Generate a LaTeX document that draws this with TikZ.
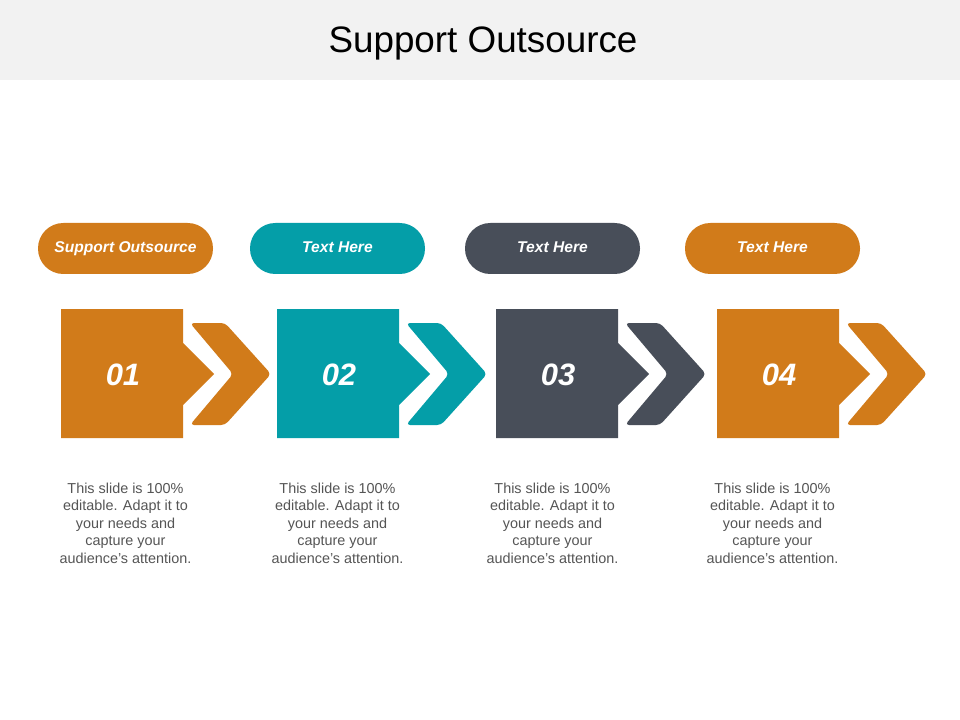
\documentclass[tikz,border=0pt]{standalone}
\usepackage{fontspec}
\setmainfont{Liberation Sans}
\definecolor{cOrange}{RGB}{209,123,26}
\definecolor{cTeal}{RGB}{4,158,168}
\definecolor{cDark}{RGB}{72,78,89}
\definecolor{cBand}{RGB}{242,242,242}
\definecolor{cBody}{RGB}{85,85,85}
\tikzset{
  title/.style={font=\fontsize{27.6pt}{32pt}\selectfont, text=black, inner sep=0pt, anchor=base},
  pill/.style={rounded corners=19pt, draw=none},
  pilltext/.style={font=\fontsize{11.7pt}{14pt}\selectfont\bfseries\itshape, text=white, inner sep=0pt, anchor=base},
  numtext/.style={font=\fontsize{23.2pt}{26pt}\selectfont\bfseries\itshape, text=white, inner sep=0pt, anchor=base},
  bodytext/.style={font=\fontsize{10.8pt}{13.1pt}\selectfont, text=cBody, inner sep=0pt, anchor=base, align=center},
  chev/.style={rounded corners=3pt, draw=none}
}
\begin{document}
\begin{tikzpicture}[x=0.75pt,y=-0.75pt]
\useasboundingbox (0,0) rectangle (960,720);
\fill[white] (0,0) rectangle (960,720);
\fill[cBand] (0,0) rectangle (960,80);
\node[title] (title) at (483,53) {Support Outsource};
\foreach \sx/\px/\col/\lab/\num/\i in {61/38/cOrange/Support Outsource/01/1, 277/250/cTeal/Text Here/02/2, 496/465/cDark/Text Here/03/3, 717/685/cOrange/Text Here/04/4}{
  % pill
  \fill[pill,\col] (\px,223) rectangle ++(175,51);
  \node[pilltext] (pill\i) at (\px+87.5,253) {\lab};
  % square with pointed side
  \fill[\col] (\sx,309) -- (\sx+122,309) -- (\sx+122,343) -- (\sx+153,374) -- (\sx+122,405) -- (\sx+122,438) -- (\sx,438) -- cycle;
  \node[numtext] (num\i) at (\sx+62,385) {\num};
  % chevron
  \fill[chev,\col] (\sx+129,323) -- (\sx+164,323) -- (\sx+210,374) -- (\sx+164,425) -- (\sx+129,425) -- (\sx+172,374) -- cycle;
  % description
  \node[bodytext] (desc\i) at (\px+87.5,563) {This slide is 100\%\\editable. Adapt it to\\your needs and\\capture your\\audience's attention.};
}
\end{tikzpicture}
\end{document}
